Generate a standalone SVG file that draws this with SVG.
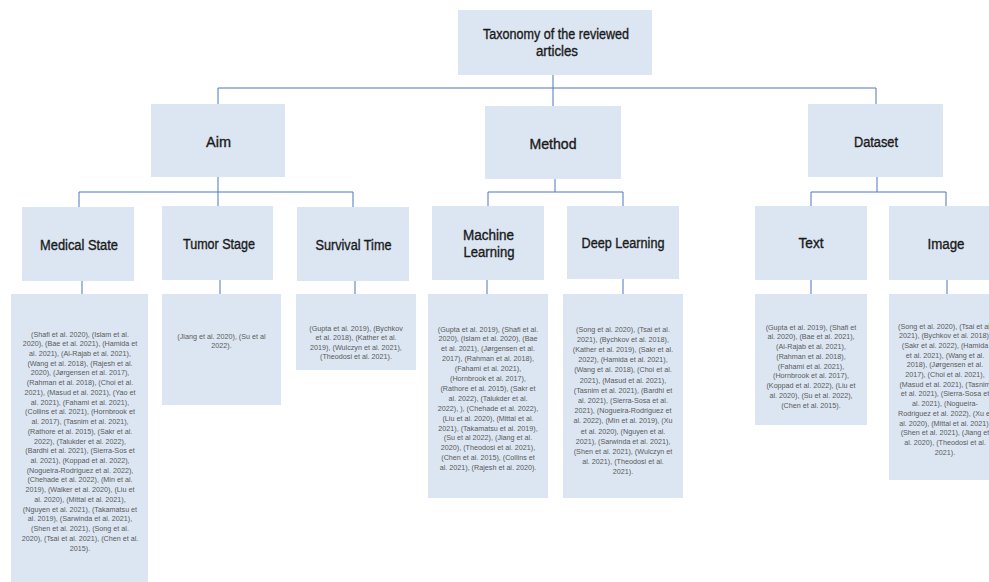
<svg xmlns="http://www.w3.org/2000/svg" width="989" height="582" viewBox="0 0 989 582">
<style>
.bx{fill:#dce6f2;}
.t{font-family:"Liberation Sans",Arial,sans-serif;font-size:14px;fill:#1a1a1a;stroke:#1a1a1a;stroke-width:0.35;text-anchor:middle;}
.s{font-family:"Liberation Sans",Arial,sans-serif;font-size:7.2px;fill:#5a5a5a;text-anchor:middle;}
.c{stroke:#4a76c4;stroke-width:1;fill:none;}
</style>
<rect width="989" height="582" fill="#ffffff"/>
<g id="connectors" class="c">
<path d="M553 75V106M218 88H876M218 88V104M876 88V104"/>
<path d="M218 177V206M79 192H353M79 192V207M353 192V207"/>
<path d="M555 179V192M488 192H623M488 192V206M623 192V206"/>
<path d="M877 177V192M811 192H946M811 192V206M946 192V206"/>
<path d="M82 281V294M220 280V294M355 281V294M487 280V294M623 279V294M811 280V294M947 280V294"/>
</g>
<g id="root">
<rect class="bx" x="458" y="10" width="194" height="65"/>
<text class="t" x="556" y="39" textLength="146" lengthAdjust="spacingAndGlyphs">Taxonomy of the reviewed</text>
<text class="t" x="557" y="56" textLength="42" lengthAdjust="spacingAndGlyphs">articles</text>
</g>
<g id="aim">
<rect class="bx" x="151" y="104" width="134" height="73"/>
<text class="t" x="218.5" y="147" textLength="25" lengthAdjust="spacingAndGlyphs">Aim</text>
</g>
<g id="method">
<rect class="bx" x="485" y="106" width="136" height="73"/>
<text class="t" x="553" y="149" textLength="47" lengthAdjust="spacingAndGlyphs">Method</text>
</g>
<g id="dataset">
<rect class="bx" x="808" y="104" width="135" height="73"/>
<text class="t" x="876" y="147" textLength="44" lengthAdjust="spacingAndGlyphs">Dataset</text>
</g>
<g id="medical-state">
<rect class="bx" x="22" y="207" width="112" height="74"/>
<text class="t" x="79" y="250" textLength="78" lengthAdjust="spacingAndGlyphs">Medical State</text>
</g>
<g id="tumor-stage">
<rect class="bx" x="162" y="206" width="111" height="74"/>
<text class="t" x="219" y="249" textLength="72" lengthAdjust="spacingAndGlyphs">Tumor Stage</text>
</g>
<g id="survival-time">
<rect class="bx" x="297" y="207" width="112" height="74"/>
<text class="t" x="353.5" y="250" textLength="76" lengthAdjust="spacingAndGlyphs">Survival Time</text>
</g>
<g id="machine-learning">
<rect class="bx" x="432" y="206" width="112" height="74"/>
<text class="t" x="488.5" y="240" textLength="51" lengthAdjust="spacingAndGlyphs">Machine</text>
<text class="t" x="489" y="257" textLength="51" lengthAdjust="spacingAndGlyphs">Learning</text>
</g>
<g id="deep-learning">
<rect class="bx" x="567" y="206" width="112" height="73"/>
<text class="t" x="623" y="248" textLength="83" lengthAdjust="spacingAndGlyphs">Deep Learning</text>
</g>
<g id="text">
<rect class="bx" x="755" y="206" width="112" height="74"/>
<text class="t" x="811" y="248" textLength="25" lengthAdjust="spacingAndGlyphs">Text</text>
</g>
<g id="image">
<rect class="bx" x="889" y="206" width="112" height="74"/>
<text class="t" x="946" y="249" textLength="37" lengthAdjust="spacingAndGlyphs">Image</text>
</g>
<g id="medical-state-refs">
<rect class="bx" x="11" y="294" width="137" height="296"/>
<text class="s" x="80" y="336.5">(Shafi et al. 2020), (Islam et al.</text>
<text class="s" x="80" y="346.2">2020), (Bae et al. 2021), (Hamida et</text>
<text class="s" x="80" y="355.9">al. 2021), (Al-Rajab et al. 2021),</text>
<text class="s" x="80" y="365.7">(Wang et al. 2018), (Rajesh et al.</text>
<text class="s" x="80" y="375.4">2020), (Jørgensen et al. 2017),</text>
<text class="s" x="80" y="385.1">(Rahman et al. 2018), (Choi et al.</text>
<text class="s" x="80" y="394.9">2021), (Masud et al. 2021), (Yao et</text>
<text class="s" x="80" y="404.6">al. 2021), (Fahami et al. 2021),</text>
<text class="s" x="80" y="414.3">(Collins et al. 2021), (Hornbrook et</text>
<text class="s" x="80" y="424.1">al. 2017), (Tasnim et al. 2021),</text>
<text class="s" x="80" y="433.8">(Rathore et al. 2015), (Sakr et al.</text>
<text class="s" x="80" y="443.5">2022), (Talukder et al. 2022),</text>
<text class="s" x="80" y="453.2">(Bardhi et al. 2021), (Sierra-Sos et</text>
<text class="s" x="80" y="463.0">al. 2021), (Koppad et al. 2022),</text>
<text class="s" x="80" y="472.7">(Nogueira-Rodriguez et al. 2022),</text>
<text class="s" x="80" y="482.4">(Chehade et al. 2022), (Min et al.</text>
<text class="s" x="80" y="492.2">2019), (Walker et al. 2020), (Liu et</text>
<text class="s" x="80" y="501.9">al. 2020), (Mittal et al. 2021),</text>
<text class="s" x="80" y="511.6">(Nguyen et al. 2021), (Takamatsu  et</text>
<text class="s" x="80" y="521.4">al. 2019), (Sarwinda et al. 2021),</text>
<text class="s" x="80" y="531.1">(Shen et al. 2021), (Song et al.</text>
<text class="s" x="80" y="540.8">2020), (Tsai et al. 2021), (Chen et al.</text>
<text class="s" x="80" y="550.5">2015).</text>
</g>
<g id="tumor-stage-refs">
<rect class="bx" x="162" y="294" width="119" height="111"/>
<text class="s" x="221.5" y="338.5">(Jiang et al. 2020), (Su et al</text>
<text class="s" x="221.5" y="348.2">2022).</text>
</g>
<g id="survival-time-refs">
<rect class="bx" x="296" y="294" width="120" height="76"/>
<text class="s" x="356" y="330.5">(Gupta et al. 2019), (Bychkov</text>
<text class="s" x="356" y="340">et al. 2018), (Kather et al.</text>
<text class="s" x="356" y="349.5">2019), (Wulczyn et al. 2021),</text>
<text class="s" x="356" y="359">(Theodosi et al. 2021).</text>
</g>
<g id="machine-learning-refs">
<rect class="bx" x="428" y="294" width="120" height="204"/>
<text class="s" x="488" y="331.5">(Gupta et al. 2019), (Shafi et al.</text>
<text class="s" x="488" y="341.4">2020), (Islam et al. 2020), (Bae</text>
<text class="s" x="488" y="351.3">et al. 2021), (Jørgensen et al.</text>
<text class="s" x="488" y="361.2">2017), (Rahman et al. 2018),</text>
<text class="s" x="488" y="371.1">(Fahami et al. 2021),</text>
<text class="s" x="488" y="381.0">(Hornbrook et al. 2017),</text>
<text class="s" x="488" y="390.9">(Rathore et al. 2015), (Sakr et</text>
<text class="s" x="488" y="400.8">al. 2022), (Talukder et al.</text>
<text class="s" x="488" y="410.7">2022), ), (Chehade et al. 2022),</text>
<text class="s" x="488" y="420.6">(Liu et al. 2020), (Mittal et al.</text>
<text class="s" x="488" y="430.5">2021), (Takamatsu et al. 2019),</text>
<text class="s" x="488" y="440.4">(Su et al 2022), (Jiang et al.</text>
<text class="s" x="488" y="450.3">2020), (Theodosi et al. 2021),</text>
<text class="s" x="488" y="460.2">(Chen et al. 2015), (Collins et</text>
<text class="s" x="488" y="470.1">al. 2021), (Rajesh et al. 2020).</text>
</g>
<g id="deep-learning-refs">
<rect class="bx" x="563" y="294" width="120" height="204"/>
<text class="s" x="623" y="331.5">(Song et al. 2020), (Tsai et al.</text>
<text class="s" x="623" y="341.7">2021), (Bychkov et al. 2018),</text>
<text class="s" x="623" y="351.9">(Kather et al. 2019), (Sakr et al.</text>
<text class="s" x="623" y="362.1">2022), (Hamida et al. 2021),</text>
<text class="s" x="623" y="372.3">(Wang et al.  2018), (Choi et al.</text>
<text class="s" x="623" y="382.5">2021), (Masud et al. 2021),</text>
<text class="s" x="623" y="392.7">(Tasnim  et al. 2021), (Bardhi et</text>
<text class="s" x="623" y="402.9">al. 2021), (Sierra-Sosa et al.</text>
<text class="s" x="623" y="413.1">2021), (Nogueira-Rodriguez et</text>
<text class="s" x="623" y="423.3">al. 2022), (Min et al. 2019), (Xu</text>
<text class="s" x="623" y="433.5">et al. 2020), (Nguyen et al.</text>
<text class="s" x="623" y="443.7">2021), (Sarwinda et al. 2021),</text>
<text class="s" x="623" y="453.9">(Shen et al. 2021), (Wulczyn et</text>
<text class="s" x="623" y="464.1">al. 2021), (Theodosi et al.</text>
<text class="s" x="623" y="474.3">2021).</text>
</g>
<g id="text-refs">
<rect class="bx" x="755" y="294" width="112" height="131"/>
<text class="s" x="811" y="329.5">(Gupta et al. 2019), (Shafi et</text>
<text class="s" x="811" y="339.2">al. 2020), (Bae et al. 2021),</text>
<text class="s" x="811" y="349.0">(Al-Rajab et al. 2021),</text>
<text class="s" x="811" y="358.7">(Rahman et al. 2018),</text>
<text class="s" x="811" y="368.5">(Fahami et al. 2021),</text>
<text class="s" x="811" y="378.2">(Hornbrook et al. 2017),</text>
<text class="s" x="811" y="388.0">(Koppad et al. 2022), (Liu et</text>
<text class="s" x="811" y="397.7">al. 2020), (Su et al. 2022),</text>
<text class="s" x="811" y="407.5">(Chen et al. 2015).</text>
</g>
<g id="image-refs">
<rect class="bx" x="889" y="294" width="112" height="186"/>
<text class="s" x="945" y="328.5">(Song et al. 2020), (Tsai et al.</text>
<text class="s" x="945" y="338.2">2021), (Bychkov et al. 2018),</text>
<text class="s" x="945" y="347.9">(Sakr et al. 2022), (Hamida</text>
<text class="s" x="945" y="357.6">et al. 2021), (Wang et al.</text>
<text class="s" x="945" y="367.3">2018), (Jørgensen et al.</text>
<text class="s" x="945" y="377.0">2017), (Choi et al. 2021),</text>
<text class="s" x="945" y="386.7">(Masud et al. 2021), (Tasnim</text>
<text class="s" x="945" y="396.4">et al. 2021), (Sierra-Sosa et</text>
<text class="s" x="945" y="406.1">al. 2021), (Nogueira-</text>
<text class="s" x="945" y="415.8">Rodriguez et al. 2022), (Xu et</text>
<text class="s" x="945" y="425.5">al. 2020), (Mittal et al. 2021),</text>
<text class="s" x="945" y="435.2">(Shen et al. 2021), (Jiang et</text>
<text class="s" x="945" y="444.9">al. 2020), (Theodosi et al.</text>
<text class="s" x="945" y="454.6">2021).</text>
</g>
</svg>
